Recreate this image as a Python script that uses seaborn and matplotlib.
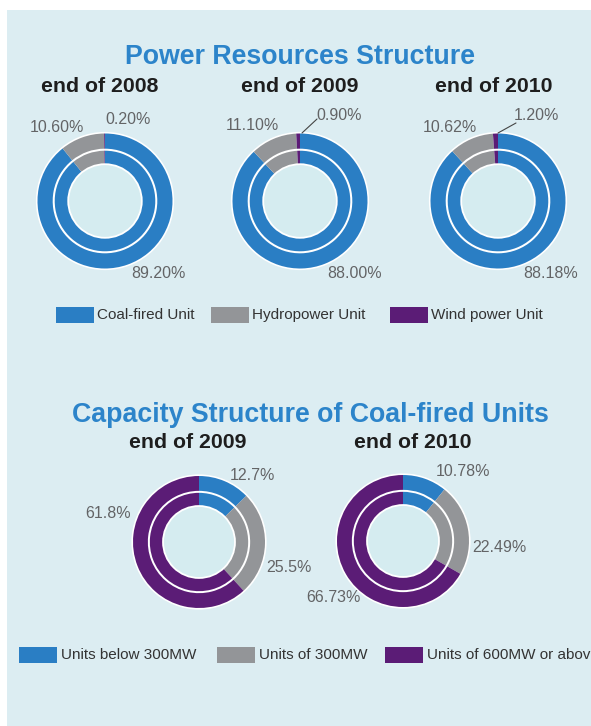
import matplotlib
matplotlib.use("Agg")
import matplotlib.pyplot as plt
from matplotlib.patches import Rectangle, Circle
import seaborn as sns

# ---------------- data ----------------
power_years = ["end of 2008", "end of 2009", "end of 2010"]
power_categories = ["Coal-fired Unit", "Hydropower Unit", "Wind power Unit"]
coal_share = [89.20, 88.00, 88.18]
hydro_share = [10.60, 11.10, 10.62]
wind_share = [0.20, 0.90, 1.20]

cap_years = ["end of 2009", "end of 2010"]
cap_categories = ["Units below 300MW", "Units of 300MW", "Units of 600MW or above"]
below300_share = [12.7, 10.78]
of300_share = [25.5, 22.49]
above600_share = [61.8, 66.73]

# label strings as printed
power_labels = [["89.20%", "10.60%", "0.20%"],
                ["88.00%", "11.10%", "0.90%"],
                ["88.18%", "10.62%", "1.20%"]]
cap_labels = [["12.7%", "25.5%", "61.8%"],
              ["10.78%", "22.49%", "66.73%"]]

# ---------------- style ----------------
sns.set_theme(style="white")
plt.rcParams["font.family"] = ["Liberation Sans", "DejaVu Sans"]

palette = sns.color_palette(["#2a7ec4", "#939598", "#5b1c76"])
BG = "#dcedf2"
CENTER = "#d5ecf0"
TITLE_BLUE = "#2c84ca"
LABEL_C = "#636466"

W, H = 591, 726
fig = plt.figure(figsize=(W / 100, H / 100), dpi=100)
fig.patch.set_facecolor("white")
ax = fig.add_axes([0, 0, 1, 1])
ax.set_xlim(0, W)
ax.set_ylim(0, H)
ax.set_aspect("equal")
ax.axis("off")


def Y(y):
    return H - y


# panel background
ax.add_patch(Rectangle((7, 0), W - 7, H - 10, facecolor=BG, edgecolor="none", zorder=0))


def donut(cx, cy, values, R):
    c = (cx, Y(cy))
    ax.add_patch(Circle(c, R + 1.6, facecolor="white", edgecolor="none", zorder=1))
    wp = dict(edgecolor="none", linewidth=0)
    w, _ = ax.pie(values, colors=palette, radius=R, center=c, startangle=90,
                  counterclock=False, wedgeprops=dict(width=R * 0.225, **wp), frame=True)
    for p in w:
        p.set_zorder(2)
    w, _ = ax.pie(values, colors=palette, radius=R * 0.745, center=c, startangle=90,
                  counterclock=False, wedgeprops=dict(width=R * 0.2, **wp), frame=True)
    for p in w:
        p.set_zorder(2)
    ax.add_patch(Circle(c, R * 0.545, facecolor=CENTER, edgecolor="white",
                        linewidth=1.3, zorder=3))


lab_kw = dict(fontsize=11.5, color=LABEL_C, ha="center", va="center", zorder=5)

# ---------------- Power Resources Structure ----------------
ax.text(300, Y(57), "Power Resources Structure", fontsize=19.3, fontweight="bold",
        color=TITLE_BLUE, ha="center", va="center")

power_centers = [(105, 201), (300, 201), (498, 201)]
power_sub_x = [100, 300, 494]
# label positions (coal, hydro, wind)
power_label_pos = [[(158, 274), (57, 127), (128, 119)],
                   [(355, 274), (252, 126), (339, 116)],
                   [(551, 274), (450, 127), (536, 116)]]
for i in range(3):
    ax.text(power_sub_x[i], Y(87), power_years[i], fontsize=15.3, fontweight="bold",
            color="#1e1e1e", ha="center", va="center")
    vals = [coal_share[i], hydro_share[i], wind_share[i]]
    donut(power_centers[i][0], power_centers[i][1], vals, 67.5)
    for j in range(3):
        x, y = power_label_pos[i][j]
        ax.text(x, Y(y), power_labels[i][j], **lab_kw)

# leader lines for small wind shares
ax.plot([302, 317], [Y(133), Y(119)], color="#444444", lw=0.8, zorder=5)
ax.plot([498, 516], [Y(133), Y(123)], color="#444444", lw=0.8, zorder=5)

# legend 1
leg1_x = [56, 211, 390]
for k in range(3):
    ax.add_patch(Rectangle((leg1_x[k], Y(323)), 38, 16, facecolor=palette[k],
                           edgecolor="none", zorder=4))
    ax.text(leg1_x[k] + 41, Y(315), power_categories[k], fontsize=11, color="#333333",
            ha="left", va="center")

# ---------------- Capacity Structure ----------------
ax.text(310, Y(415), "Capacity Structure of Coal-fired Units", fontsize=19.3,
        fontweight="bold", color=TITLE_BLUE, ha="center", va="center")

cap_centers = [(199, 542), (403, 541)]
cap_sub_x = [188, 413]
cap_label_pos = [[(252, 476), (289, 568), (108, 514)],
                 [(463, 471), (499, 548), (333, 597)]]
for i in range(2):
    ax.text(cap_sub_x[i], Y(443), cap_years[i], fontsize=15.3, fontweight="bold",
            color="#1e1e1e", ha="center", va="center")
    vals = [below300_share[i], of300_share[i], above600_share[i]]
    donut(cap_centers[i][0], cap_centers[i][1], vals, 66)
    for j in range(3):
        x, y = cap_label_pos[i][j]
        ax.text(x, Y(y), cap_labels[i][j], **lab_kw)

# legend 2
leg2_x = [19, 217, 385]
for k in range(3):
    ax.add_patch(Rectangle((leg2_x[k], Y(663)), 38, 16, facecolor=palette[k],
                           edgecolor="none", zorder=4))
    ax.text(leg2_x[k] + 42, Y(655), cap_categories[k], fontsize=11, color="#333333",
            ha="left", va="center", clip_on=True)

ax.set_xlim(0, W)
ax.set_ylim(0, H)
ax.set_xticks([])
ax.set_yticks([])

fig.savefig("out.png", dpi=100, facecolor=fig.get_facecolor())
